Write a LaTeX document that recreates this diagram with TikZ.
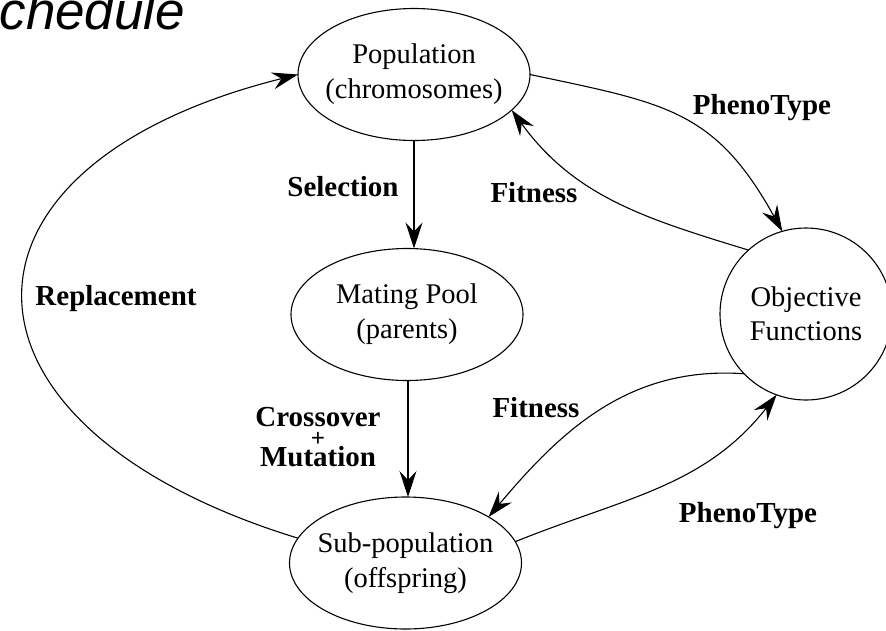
\documentclass[tikz,border=0pt]{standalone}
\usepackage{fontspec}
\usetikzlibrary{shapes.geometric,arrows.meta}
\newfontfamily\timesfont{Liberation Serif}
\newfontfamily\headfont{Liberation Sans}

\tikzset{
  stage/.style={ellipse, draw, line width=1.1pt, inner sep=-20pt, outer sep=0pt,
    minimum width=232pt, minimum height=132pt, align=center,
    font=\timesfont\fontsize{28.5}{35}\selectfont},
  goal/.style={circle, draw, line width=1.1pt, inner sep=0pt, outer sep=0pt,
    minimum size=172pt, align=center,
    font=\timesfont\fontsize{28.5}{34}\selectfont},
  lbl/.style={font=\timesfont\bfseries\fontsize{29}{34}\selectfont, align=center},
  flow/.style={line width=1.1pt, -{Stealth[length=26pt,width=17pt,inset=9pt]}},
}

\begin{document}
\begin{tikzpicture}[x=1pt, y=1pt]
  \useasboundingbox (0,0) rectangle (886,-630);
  \clip (0,0) rectangle (886,-630);

  % cut-off heading
  \node[font=\headfont\itshape\fontsize{53}{53}\selectfont, anchor=base west] (head) at (-4,-29) {chedule};

  % stages
  \node[stage] (pop)  at (414,-74.5)  {Population\\(chromosomes)};
  \node[stage] (mate) at (407,-314.5) {Mating Pool\\(parents)};
  \node[stage] (sub)  at (405.5,-563) {Sub-population\\(offspring)};
  \node[goal]  (obj)  at (806,-314)   {Objective\\Functions};

  % main loop
  \draw[flow] (pop.south -| 414,0) -- (mate.north -| 414,0);
  \draw[flow] (mate.south -| 408,0) -- (sub.north -| 408,0);
  \draw[flow] (sub.167) to[out=163, in=194, looseness=2.1] (pop.west);

  % evaluation
  \draw[flow] (pop.east) to[out=-12, in=119, looseness=1.2] (obj.106);
  \draw[flow] (obj.132) to[out=163, in=-54] (pop.-20);
  \draw[flow] (obj.224) to[out=176, in=50] (sub.29);
  \draw[flow] (sub.11) to[out=22, in=232] (obj.250);

  % labels
  \node[lbl] (sel)   at (343,-187) {Selection};
  \node[lbl] (fit1)  at (534,-193) {Fitness};
  \node[lbl] (phen1) at (762,-108) {PhenoType};
  \node[lbl] (repl)  at (116,-299) {Replacement};
  \node[lbl] (fit2)  at (536,-408) {Fitness};
  \node[lbl] (phen2) at (748,-516) {PhenoType};
  \node[lbl] (xo)    at (318,-437) {Crossover\\[-14pt]{\fontsize{25}{25}\selectfont +}\\[-14pt]Mutation};
\end{tikzpicture}
\end{document}
